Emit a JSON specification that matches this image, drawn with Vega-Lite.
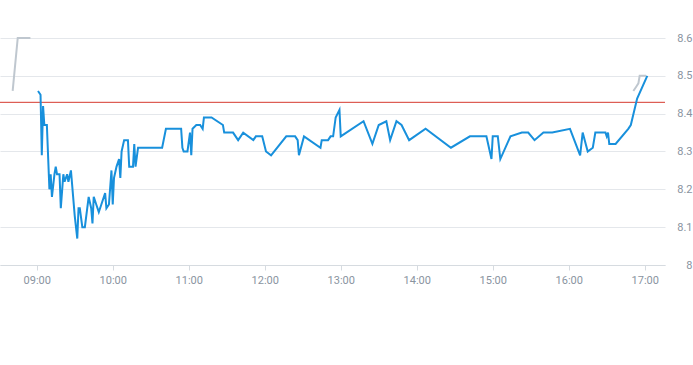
{
  "$schema": "https://vega.github.io/schema/vega-lite/v6.json",
  "width": 665,
  "height": 227,
  "autosize": {"type": "none"},
  "padding": {"left": 0, "top": 38, "right": 28, "bottom": 100},
  "background": "white",
  "config": {
    "view": {"stroke": null},
    "font": "Roboto",
    "axis": {"labelFont": "Roboto", "labelFontSize": 11, "labelColor": "#8a949f", "title": null}
  },
  "datasets": {
    "main": [
      {"t": "2024-01-02T09:01:00", "v": 8.46},
      {"t": "2024-01-02T09:03:00", "v": 8.45},
      {"t": "2024-01-02T09:04:00", "v": 8.29},
      {"t": "2024-01-02T09:05:00", "v": 8.42},
      {"t": "2024-01-02T09:06:00", "v": 8.37},
      {"t": "2024-01-02T09:08:00", "v": 8.37},
      {"t": "2024-01-02T09:10:00", "v": 8.20},
      {"t": "2024-01-02T09:11:00", "v": 8.24},
      {"t": "2024-01-02T09:12:00", "v": 8.18},
      {"t": "2024-01-02T09:14:00", "v": 8.24},
      {"t": "2024-01-02T09:15:00", "v": 8.26},
      {"t": "2024-01-02T09:16:00", "v": 8.24},
      {"t": "2024-01-02T09:18:00", "v": 8.24},
      {"t": "2024-01-02T09:19:00", "v": 8.15},
      {"t": "2024-01-02T09:21:00", "v": 8.24},
      {"t": "2024-01-02T09:22:00", "v": 8.22},
      {"t": "2024-01-02T09:24:00", "v": 8.24},
      {"t": "2024-01-02T09:25:00", "v": 8.22},
      {"t": "2024-01-02T09:27:00", "v": 8.25},
      {"t": "2024-01-02T09:30:00", "v": 8.13},
      {"t": "2024-01-02T09:32:00", "v": 8.07},
      {"t": "2024-01-02T09:33:00", "v": 8.15},
      {"t": "2024-01-02T09:34:00", "v": 8.15},
      {"t": "2024-01-02T09:36:00", "v": 8.10},
      {"t": "2024-01-02T09:38:00", "v": 8.10},
      {"t": "2024-01-02T09:41:00", "v": 8.18},
      {"t": "2024-01-02T09:43:00", "v": 8.15},
      {"t": "2024-01-02T09:44:00", "v": 8.11},
      {"t": "2024-01-02T09:45:00", "v": 8.18},
      {"t": "2024-01-02T09:47:00", "v": 8.16},
      {"t": "2024-01-02T09:49:00", "v": 8.14},
      {"t": "2024-01-02T09:51:00", "v": 8.16},
      {"t": "2024-01-02T09:54:00", "v": 8.19},
      {"t": "2024-01-02T09:55:00", "v": 8.15},
      {"t": "2024-01-02T09:57:00", "v": 8.16},
      {"t": "2024-01-02T09:59:00", "v": 8.25},
      {"t": "2024-01-02T10:00:00", "v": 8.16},
      {"t": "2024-01-02T10:01:00", "v": 8.23},
      {"t": "2024-01-02T10:03:00", "v": 8.26},
      {"t": "2024-01-02T10:05:00", "v": 8.28},
      {"t": "2024-01-02T10:06:00", "v": 8.23},
      {"t": "2024-01-02T10:07:00", "v": 8.30},
      {"t": "2024-01-02T10:09:00", "v": 8.33},
      {"t": "2024-01-02T10:12:00", "v": 8.33},
      {"t": "2024-01-02T10:13:00", "v": 8.26},
      {"t": "2024-01-02T10:16:00", "v": 8.26},
      {"t": "2024-01-02T10:17:00", "v": 8.32},
      {"t": "2024-01-02T10:18:00", "v": 8.26},
      {"t": "2024-01-02T10:20:00", "v": 8.31},
      {"t": "2024-01-02T10:39:00", "v": 8.31},
      {"t": "2024-01-02T10:42:00", "v": 8.36},
      {"t": "2024-01-02T10:54:00", "v": 8.36},
      {"t": "2024-01-02T10:55:00", "v": 8.31},
      {"t": "2024-01-02T10:56:00", "v": 8.30},
      {"t": "2024-01-02T10:59:00", "v": 8.30},
      {"t": "2024-01-02T11:01:00", "v": 8.35},
      {"t": "2024-01-02T11:02:00", "v": 8.29},
      {"t": "2024-01-02T11:03:00", "v": 8.36},
      {"t": "2024-01-02T11:06:00", "v": 8.37},
      {"t": "2024-01-02T11:09:00", "v": 8.37},
      {"t": "2024-01-02T11:11:00", "v": 8.36},
      {"t": "2024-01-02T11:12:00", "v": 8.39},
      {"t": "2024-01-02T11:18:00", "v": 8.39},
      {"t": "2024-01-02T11:27:00", "v": 8.37},
      {"t": "2024-01-02T11:28:00", "v": 8.35},
      {"t": "2024-01-02T11:35:00", "v": 8.35},
      {"t": "2024-01-02T11:39:00", "v": 8.33},
      {"t": "2024-01-02T11:43:00", "v": 8.35},
      {"t": "2024-01-02T11:51:00", "v": 8.33},
      {"t": "2024-01-02T11:53:00", "v": 8.34},
      {"t": "2024-01-02T11:58:00", "v": 8.34},
      {"t": "2024-01-02T12:01:00", "v": 8.30},
      {"t": "2024-01-02T12:05:00", "v": 8.29},
      {"t": "2024-01-02T12:17:00", "v": 8.34},
      {"t": "2024-01-02T12:24:00", "v": 8.34},
      {"t": "2024-01-02T12:26:00", "v": 8.33},
      {"t": "2024-01-02T12:27:00", "v": 8.29},
      {"t": "2024-01-02T12:31:00", "v": 8.34},
      {"t": "2024-01-02T12:44:00", "v": 8.31},
      {"t": "2024-01-02T12:45:00", "v": 8.33},
      {"t": "2024-01-02T12:50:00", "v": 8.33},
      {"t": "2024-01-02T12:52:00", "v": 8.34},
      {"t": "2024-01-02T12:54:00", "v": 8.34},
      {"t": "2024-01-02T12:56:00", "v": 8.39},
      {"t": "2024-01-02T12:59:00", "v": 8.41},
      {"t": "2024-01-02T13:00:00", "v": 8.34},
      {"t": "2024-01-02T13:18:00", "v": 8.38},
      {"t": "2024-01-02T13:25:00", "v": 8.32},
      {"t": "2024-01-02T13:30:00", "v": 8.37},
      {"t": "2024-01-02T13:36:00", "v": 8.38},
      {"t": "2024-01-02T13:39:00", "v": 8.33},
      {"t": "2024-01-02T13:44:00", "v": 8.38},
      {"t": "2024-01-02T13:48:00", "v": 8.37},
      {"t": "2024-01-02T13:54:00", "v": 8.33},
      {"t": "2024-01-02T14:07:00", "v": 8.36},
      {"t": "2024-01-02T14:27:00", "v": 8.31},
      {"t": "2024-01-02T14:42:00", "v": 8.34},
      {"t": "2024-01-02T14:45:00", "v": 8.34},
      {"t": "2024-01-02T14:55:00", "v": 8.34},
      {"t": "2024-01-02T14:59:00", "v": 8.28},
      {"t": "2024-01-02T15:00:00", "v": 8.34},
      {"t": "2024-01-02T15:04:00", "v": 8.34},
      {"t": "2024-01-02T15:06:00", "v": 8.28},
      {"t": "2024-01-02T15:14:00", "v": 8.34},
      {"t": "2024-01-02T15:23:00", "v": 8.35},
      {"t": "2024-01-02T15:28:00", "v": 8.35},
      {"t": "2024-01-02T15:33:00", "v": 8.33},
      {"t": "2024-01-02T15:40:00", "v": 8.35},
      {"t": "2024-01-02T15:47:00", "v": 8.35},
      {"t": "2024-01-02T16:01:00", "v": 8.36},
      {"t": "2024-01-02T16:09:00", "v": 8.29},
      {"t": "2024-01-02T16:11:00", "v": 8.35},
      {"t": "2024-01-02T16:15:00", "v": 8.30},
      {"t": "2024-01-02T16:19:00", "v": 8.31},
      {"t": "2024-01-02T16:21:00", "v": 8.35},
      {"t": "2024-01-02T16:29:00", "v": 8.35},
      {"t": "2024-01-02T16:30:00", "v": 8.34},
      {"t": "2024-01-02T16:31:00", "v": 8.35},
      {"t": "2024-01-02T16:32:00", "v": 8.32},
      {"t": "2024-01-02T16:37:00", "v": 8.32},
      {"t": "2024-01-02T16:47:00", "v": 8.36},
      {"t": "2024-01-02T16:49:00", "v": 8.37},
      {"t": "2024-01-02T16:54:00", "v": 8.44},
      {"t": "2024-01-02T17:02:00", "v": 8.50}
    ],
    "extra": [
      {"t": "2024-01-02T08:41:00", "v": 8.46, "seg": "pre"},
      {"t": "2024-01-02T08:45:00", "v": 8.60, "seg": "pre"},
      {"t": "2024-01-02T08:55:00", "v": 8.60, "seg": "pre"},
      {"t": "2024-01-02T16:51:00", "v": 8.46, "seg": "post"},
      {"t": "2024-01-02T16:53:00", "v": 8.47, "seg": "post"},
      {"t": "2024-01-02T16:55:00", "v": 8.48, "seg": "post"},
      {"t": "2024-01-02T16:56:00", "v": 8.50, "seg": "post"},
      {"t": "2024-01-02T17:01:00", "v": 8.50, "seg": "post"}
    ],
    "ref": [
      {"v": 8.43}
    ]
  },
  "encoding": {
    "x": {
      "field": "t",
      "type": "temporal",
      "scale": {
        "domain": [
          {"year": 2024, "month": 1, "date": 2, "hours": 8, "minutes": 31},
          {"year": 2024, "month": 1, "date": 2, "hours": 17, "minutes": 16}
        ]
      },
      "axis": {
        "format": "%H:%M",
        "values": [
          {"year": 2024, "month": 1, "date": 2, "hours": 9},
          {"year": 2024, "month": 1, "date": 2, "hours": 10},
          {"year": 2024, "month": 1, "date": 2, "hours": 11},
          {"year": 2024, "month": 1, "date": 2, "hours": 12},
          {"year": 2024, "month": 1, "date": 2, "hours": 13},
          {"year": 2024, "month": 1, "date": 2, "hours": 14},
          {"year": 2024, "month": 1, "date": 2, "hours": 15},
          {"year": 2024, "month": 1, "date": 2, "hours": 16},
          {"year": 2024, "month": 1, "date": 2, "hours": 17}
        ],
        "grid": false,
        "domainColor": "#d6dbe0",
        "tickColor": "#d6dbe0",
        "tickSize": 5,
        "labelPadding": 4,
        "labelFlush": false
      }
    },
    "y": {
      "field": "v",
      "type": "quantitative",
      "scale": {"domain": [8, 8.6], "nice": false, "zero": false},
      "axis": {
        "orient": "right",
        "values": [8, 8.1, 8.2, 8.3, 8.4, 8.5, 8.6],
        "format": "~g",
        "domain": false,
        "ticks": false,
        "grid": true,
        "gridColor": "#e4e7eb",
        "labelAlign": "right",
        "labelPadding": 27
      }
    }
  },
  "layer": [
    {
      "data": {"name": "ref"},
      "mark": {"type": "rule", "color": "#d63a2f", "strokeWidth": 1},
      "encoding": {"x": null}
    },
    {
      "data": {"name": "extra"},
      "mark": {"type": "line", "color": "#bfc7cf", "strokeWidth": 2},
      "encoding": {"detail": {"field": "seg"}}
    },
    {
      "data": {"name": "main"},
      "mark": {"type": "line", "color": "#1890dc", "strokeWidth": 2},
      "encoding": {}
    }
  ]
}
